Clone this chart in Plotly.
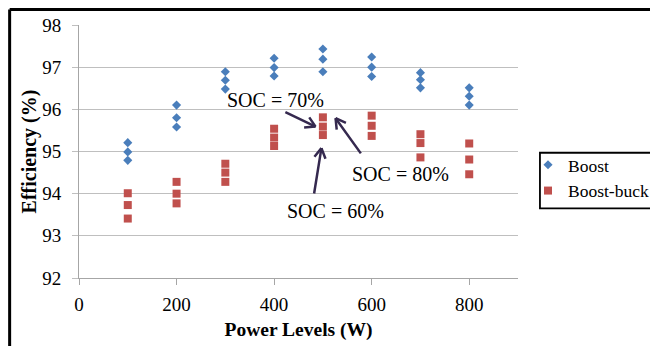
import math
import plotly.graph_objects as go

power = [100, 200, 300, 400, 500, 600, 700, 800]
# three SOC levels per power level (top, middle, bottom)
boost_hi = [95.21, 96.10, 96.89, 97.21, 97.43, 97.24, 96.87, 96.51]
boost_mid = [94.99, 95.80, 96.69, 96.99, 97.19, 97.00, 96.70, 96.31]
boost_lo = [94.79, 95.58, 96.48, 96.79, 96.89, 96.78, 96.51, 96.10]
bb_hi = [94.01, 94.28, 94.71, 95.54, 95.81, 95.85, 95.41, 95.19]
bb_mid = [93.73, 94.00, 94.50, 95.33, 95.59, 95.61, 95.20, 94.81]
bb_lo = [93.41, 93.77, 94.28, 95.13, 95.39, 95.37, 94.86, 94.46]

x_ticks = [0, 200, 400, 600, 800]
y_ticks = [92, 93, 94, 95, 96, 97, 98]

# SOC annotations
soc_labels = ["SOC = 70%", "SOC = 60%", "SOC = 80%"]
soc_text_x = [403, 526, 660]
soc_text_y = [96.22, 93.60, 94.47]
soc_head_x = [485, 497, 526]
soc_head_y = [95.59, 95.08, 95.79]
soc_tail_x = [420, 481.5, 580]
soc_tail_y = [95.95, 93.97, 94.92]

SERIF = "Liberation Serif, Times New Roman, serif"
BLUE = "#4A7EBB"
RED = "#C0504D"
ARROW = "#35294F"

W, H = 650, 338
ML, MR, MT, MB = 71, 140, 17, 68
X_RANGE = [0, 900]
Y_RANGE = [92, 98]
sx = (W - ML - MR) / (X_RANGE[1] - X_RANGE[0])
sy = (H - MT - MB) / (Y_RANGE[1] - Y_RANGE[0])

xs = power * 3
fig = go.Figure()
fig.add_trace(go.Scatter(
    x=xs, y=boost_hi + boost_mid + boost_lo, mode="markers", name="Boost",
    marker=dict(symbol="diamond", size=7, color=BLUE),
))
fig.add_trace(go.Scatter(
    x=xs, y=bb_hi + bb_mid + bb_lo, mode="markers", name="Boost-buck",
    marker=dict(symbol="square", size=8, color=RED),
))

annotations = []
for lab, tx, ty in zip(soc_labels, soc_text_x, soc_text_y):
    annotations.append(dict(x=tx, y=ty, xref="x", yref="y", text=lab,
                            showarrow=False, font=dict(family=SERIF, size=20, color="black")))

ARM_LEN = 13
ARM_ANG = math.radians(30)
for hx, hy, tx, ty in zip(soc_head_x, soc_head_y, soc_tail_x, soc_tail_y):
    # shaft
    annotations.append(dict(x=hx, y=hy, xref="x", yref="y", ax=tx, ay=ty,
                            axref="x", ayref="y", text="", showarrow=True,
                            arrowhead=0, arrowwidth=2.5, arrowcolor=ARROW, standoff=0,
                            startstandoff=0))
    # open V head arms (pixel offsets from the head)
    dx = (tx - hx) * sx
    dy = -(ty - hy) * sy
    n = math.hypot(dx, dy)
    ux, uy = dx / n, dy / n
    for s in (1, -1):
        c, si = math.cos(s * ARM_ANG), math.sin(s * ARM_ANG)
        axp = ARM_LEN * (ux * c - uy * si)
        ayp = ARM_LEN * (ux * si + uy * c)
        annotations.append(dict(x=hx, y=hy, xref="x", yref="y", ax=axp, ay=ayp,
                                text="", showarrow=True, arrowhead=0, arrowwidth=2.5,
                                arrowcolor=ARROW, standoff=0, startstandoff=0))

fig.update_layout(
    width=W, height=H,
    margin=dict(l=ML, r=MR, t=MT, b=MB, autoexpand=False),
    paper_bgcolor="white", plot_bgcolor="white",
    font=dict(family=SERIF, size=19, color="black"),
    showlegend=True,
    legend=dict(x=1.0228, y=0.518, xanchor="left", yanchor="top",
                font=dict(family=SERIF, size=17.5, color="black"),
                bgcolor="rgba(0,0,0,0)", borderwidth=0, itemwidth=30,
                tracegroupgap=0),
    annotations=annotations,
    shapes=[
        # legend frame
        dict(type="rect", xref="paper", yref="paper", x0=1.050, x1=1.3166,
             y0=0.2755, y1=0.495, line=dict(color="black", width=1.8)),
        # outer frame (left and top edges)
        dict(type="line", xref="paper", yref="paper", x0=-0.158, x1=-0.158,
             y0=-0.3, y1=1.061, line=dict(color="black", width=3)),
        dict(type="line", xref="paper", yref="paper", x0=-0.158, x1=1.6,
             y0=1.061, y1=1.061, line=dict(color="black", width=3)),
    ],
)
fig.update_xaxes(
    range=X_RANGE, tickvals=x_ticks, showgrid=False, zeroline=False,
    showline=True, linecolor="#A6A6A6", linewidth=1,
    ticks="outside", ticklen=6, tickcolor="#A6A6A6", ticklabelstandoff=3,
    tickfont=dict(family=SERIF, size=19),
    title=dict(text="<b>Power Levels (W)</b>", font=dict(family=SERIF, size=19.5), standoff=8),
    automargin=False,
)
fig.update_yaxes(
    range=Y_RANGE, tickvals=y_ticks, showgrid=True, gridcolor="#BFBFBF", gridwidth=1,
    zeroline=False, showline=True, linecolor="#A6A6A6", linewidth=1,
    ticks="outside", ticklen=6, tickcolor="#BFBFBF", ticklabelstandoff=7,
    tickfont=dict(family=SERIF, size=19),
    title=dict(text="<b>Efficiency (%)</b>", font=dict(family=SERIF, size=20), standoff=0),
    automargin=False,
)

fig.write_html("out.html")
